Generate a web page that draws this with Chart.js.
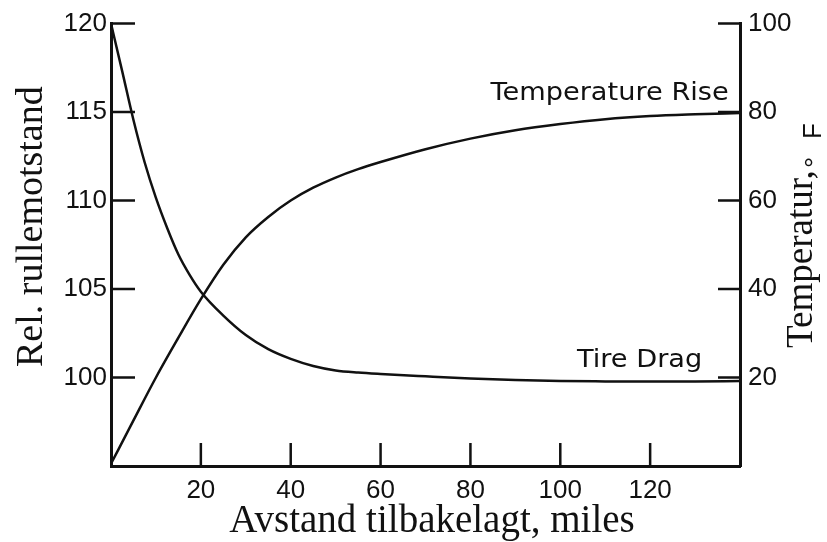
<!DOCTYPE html>
<html>
<head>
<meta charset="utf-8">
<script src="https://cdn.jsdelivr.net/npm/chart.js@4.4.0/dist/chart.umd.min.js"></script>
<style>
  body { margin: 0; background: #fff; }
</style>
</head>
<body>
<canvas id="chart" width="827" height="542"></canvas>
<script>
// distance travelled, miles
const dragMiles = [0, 2.5, 5, 7.5, 10, 12.5, 15, 17.5, 20, 25, 30, 35, 40, 45, 50, 55, 60, 70, 80, 90, 100, 110, 120, 130, 140];
// relative rolling resistance (left axis)
const tireDrag = [120, 117.3, 114.55, 112.15, 110.15, 108.45, 106.95, 105.8, 104.85, 103.5, 102.4, 101.6, 101.05, 100.65, 100.4, 100.28, 100.2, 100.07, 99.95, 99.86, 99.8, 99.78, 99.77, 99.78, 99.8];

const tempMiles = [0, 5, 10, 15, 20, 25, 30, 35, 40, 45, 50, 55, 60, 70, 80, 90, 100, 110, 120, 130, 140];
// temperature rise, deg F (right axis)
const tempRise = [0.5, 10.3, 20.0, 29.0, 37.7, 45.5, 51.7, 56.3, 60.0, 62.9, 65.2, 67.1, 68.7, 71.6, 74.0, 75.9, 77.3, 78.4, 79.1, 79.5, 79.8];

const xTicks = [20, 40, 60, 80, 100, 120];
const dragTicks = [100, 105, 110, 115, 120];
const tempTicks = [20, 40, 60, 80, 100];

const sansFont = "'Liberation Sans', Arial, sans-serif";
const labelFont = "'DejaVu Sans', sans-serif";
const serifFont = "'Liberation Serif', 'Times New Roman', serif";

// right-aligned label, stretched a bit wider like the scanned lettering
function wideLabel(ctx, text, x, y) {
  ctx.save();
  ctx.translate(x, y);
  ctx.scale(1.088, 1);
  ctx.fillText(text, 0, 0);
  ctx.restore();
}

// draws inward tick marks, curve labels and axis titles
const decorations = {
  id: "decorations",
  afterDraw(chart) {
    const { ctx, chartArea: a, scales } = chart;
    ctx.save();
    ctx.strokeStyle = "#111";
    ctx.lineWidth = 2.5;
    ctx.beginPath();
    xTicks.forEach(v => {
      const px = scales.x.getPixelForValue(v);
      ctx.moveTo(px, a.bottom);
      ctx.lineTo(px, a.bottom - 23);
    });
    dragTicks.forEach(v => {
      const py = scales.y.getPixelForValue(v);
      ctx.moveTo(a.left, py);
      ctx.lineTo(a.left + 24, py);
    });
    tempTicks.forEach(v => {
      const py = scales.y2.getPixelForValue(v);
      ctx.moveTo(a.right - 22, py);
      ctx.lineTo(a.right, py);
    });
    ctx.stroke();

    // curve labels
    ctx.fillStyle = "#111";
    ctx.font = "25px " + labelFont;
    ctx.textAlign = "right";
    ctx.textBaseline = "middle";
    wideLabel(ctx, "Temperature Rise", scales.x.getPixelForValue(137.5), scales.y2.getPixelForValue(84.3));
    wideLabel(ctx, "Tire Drag", scales.x.getPixelForValue(131.6), scales.y2.getPixelForValue(23.8));

    // axis titles
    ctx.textBaseline = "alphabetic";
    ctx.font = "39px " + serifFont;
    ctx.textAlign = "center";
    ctx.fillText("Avstand tilbakelagt, miles", 432, 532);

    ctx.save();
    ctx.translate(42, 367);
    ctx.rotate(-Math.PI / 2);
    ctx.textAlign = "left";
    ctx.font = "38px " + serifFont;
    ctx.fillText("Rel. rullemotstand", 0, 0);
    ctx.restore();

    ctx.save();
    ctx.translate(812, 348);
    ctx.rotate(-Math.PI / 2);
    ctx.textAlign = "left";
    ctx.font = "37px " + serifFont;
    ctx.fillText("Temperatur,", 0, 0);
    ctx.font = "28px " + sansFont;
    ctx.fillText("°", 180, 12);
    ctx.font = "26px " + sansFont;
    ctx.fillText("F", 209, 9);
    ctx.restore();

    ctx.restore();
  }
};

const tickFont = { family: sansFont, size: 26 };

const chart = new Chart(document.getElementById("chart").getContext("2d"), {
  type: "line",
  data: {
    datasets: [
      {
        label: "Tire Drag",
        data: dragMiles.map((m, i) => ({ x: m, y: tireDrag[i] })),
        yAxisID: "y",
        borderColor: "#111",
        borderWidth: 2.5,
        pointRadius: 0,
        cubicInterpolationMode: "monotone",
      },
      {
        label: "Temperature Rise",
        data: tempMiles.map((m, i) => ({ x: m, y: tempRise[i] })),
        yAxisID: "y2",
        borderColor: "#111",
        borderWidth: 2.5,
        pointRadius: 0,
        cubicInterpolationMode: "monotone",
      },
    ],
  },
  options: {
    responsive: false,
    animation: false,
    layout: { padding: { top: 20 } },
    plugins: { legend: { display: false }, tooltip: { enabled: false } },
    scales: {
      x: {
        type: "linear",
        min: 0,
        max: 140,
        afterBuildTicks: s => { s.ticks = xTicks.map(v => ({ value: v })); },
        afterFit: s => { s.height = 76; },
        grid: { drawOnChartArea: false, drawTicks: false },
        border: { color: "#111", width: 3 },
        ticks: { color: "#111", font: tickFont, padding: 9, maxRotation: 0 },
      },
      y: {
        position: "left",
        min: 95,
        max: 120,
        afterBuildTicks: s => { s.ticks = dragTicks.map(v => ({ value: v })); },
        afterFit: s => { s.width = 111; },
        grid: { drawOnChartArea: false, drawTicks: false },
        border: { color: "#111", width: 3 },
        ticks: { color: "#111", font: tickFont, padding: 4 },
      },
      y2: {
        position: "right",
        min: 0,
        max: 100,
        afterBuildTicks: s => { s.ticks = tempTicks.map(v => ({ value: v })); },
        afterFit: s => { s.width = 87; },
        grid: { drawOnChartArea: false, drawTicks: false },
        border: { color: "#111", width: 3 },
        ticks: { color: "#111", font: tickFont, padding: 8 },
      },
    },
  },
  plugins: [decorations],
});
</script>
</body>
</html>
